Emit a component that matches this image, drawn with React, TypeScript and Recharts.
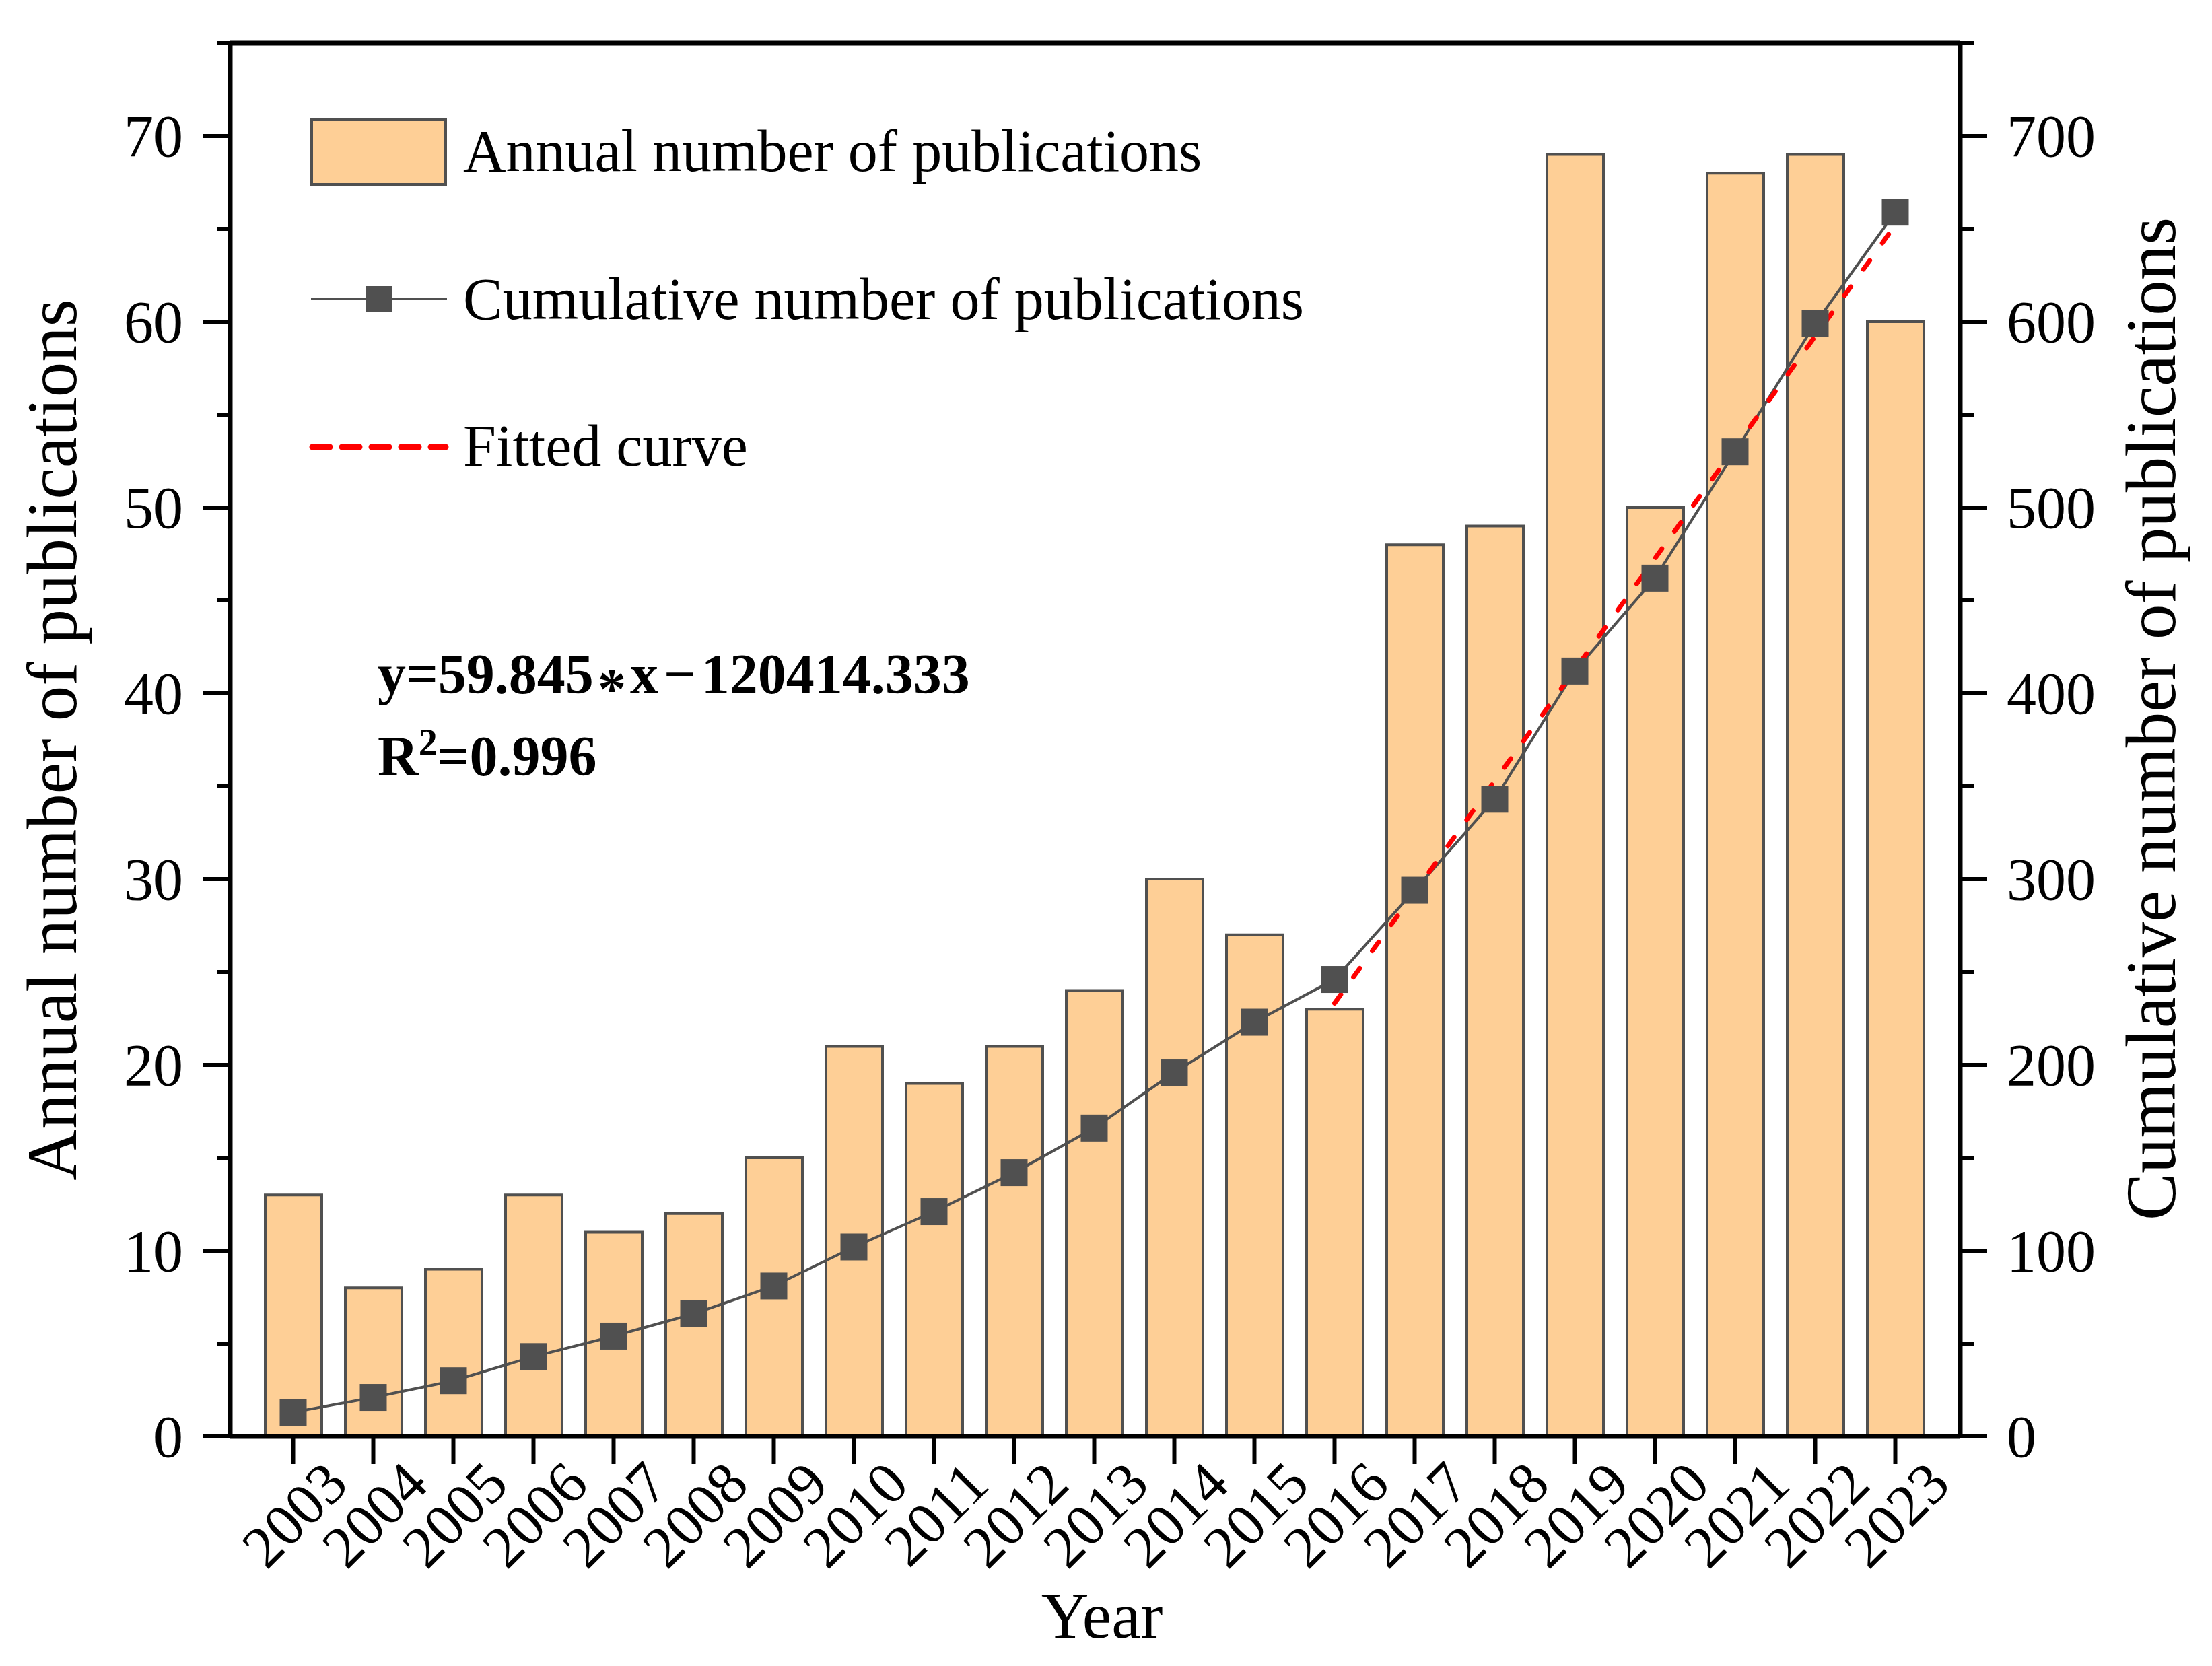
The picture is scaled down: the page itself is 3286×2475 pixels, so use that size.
import React from 'react';
import {
  ComposedChart,
  Bar,
  Line,
  XAxis,
  YAxis,
  Legend,
  ReferenceLine,
} from 'recharts';

const FONT = '"Liberation Serif", "Times New Roman", serif';
const BAR_FILL = '#FECF96';
const GRAY = '#505050';

// chart data
const years = [
  '2003', '2004', '2005', '2006', '2007', '2008', '2009', '2010', '2011', '2012', '2013',
  '2014', '2015', '2016', '2017', '2018', '2019', '2020', '2021', '2022', '2023',
];
const annualCounts = [13, 8, 9, 13, 11, 12, 15, 21, 19, 21, 24, 30, 27, 23, 48, 49, 69, 50, 68, 69, 60];
const cumulativeCounts = [
  13, 21, 30, 43, 54, 66, 81, 102, 121, 142, 166, 196, 223, 246, 294, 343, 412, 462, 530, 599, 659,
];
// linear fit over 2016-2023 (y = 59.845*x - 120414.333)
const fittedValues = [
  null, null, null, null, null, null, null, null, null, null, null, null, null,
  233.2, 293.0, 352.9, 412.7, 472.6, 532.4, 592.2, 652.1,
];
const leftTicks = [0, 5, 10, 15, 20, 25, 30, 35, 40, 45, 50, 55, 60, 65, 70, 75];
const rightTicks = [0, 50, 100, 150, 200, 250, 300, 350, 400, 450, 500, 550, 600, 650, 700, 750];

const data = years.map((year, i) => ({
  year,
  annual: annualCounts[i],
  cumulative: cumulativeCounts[i],
  fitted: fittedValues[i],
}));

const LeftTick = (props: any) => {
  const { x, y, payload } = props;
  const major = payload.value % 10 === 0;
  return (
    <g>
      <line x1={x} x2={x - (major ? 40 : 20)} y1={y} y2={y} stroke="#000" strokeWidth={6} />
      {major && (
        <text x={x - 70} y={y + 30} textAnchor="end" fontSize={88} fontFamily={FONT} fill="#000">
          {payload.value}
        </text>
      )}
    </g>
  );
};

const RightTick = (props: any) => {
  const { x, y, payload } = props;
  const major = payload.value % 100 === 0;
  return (
    <g>
      <line x1={x} x2={x + (major ? 40 : 20)} y1={y} y2={y} stroke="#000" strokeWidth={6} />
      {major && (
        <text x={x + 69} y={y + 30} textAnchor="start" fontSize={88} fontFamily={FONT} fill="#000">
          {payload.value}
        </text>
      )}
    </g>
  );
};

const YearTick = (props: any) => {
  const { x, y, payload } = props;
  const ax = x + 85;
  const ay = y + 34;
  return (
    <text
      x={ax}
      y={ay}
      transform={`rotate(-45, ${ax}, ${ay})`}
      textAnchor="end"
      fontSize={88}
      fontFamily={FONT}
      fill="#000"
    >
      {payload.value}
    </text>
  );
};

const SquareDot = (props: any) => {
  const { cx, cy, index } = props;
  if (cx == null || cy == null) return <g key={`d-${index}`} />;
  return <rect key={`d-${index}`} x={cx - 20} y={cy - 20} width={40} height={40} fill={GRAY} />;
};

const LegendBox = () => (
  <svg width={2100} height={760} style={{ display: 'block', overflow: 'visible' }}>
    <rect x={463} y={178} width={199} height={96} fill={BAR_FILL} stroke={GRAY} strokeWidth={4} />
    <text x={688} y={254} fontSize={88} fontFamily={FONT} fill="#000">
      Annual number of publications
    </text>
    <line x1={462} x2={664} y1={444} y2={444} stroke={GRAY} strokeWidth={4} />
    <rect x={544} y={425} width={39} height={39} fill={GRAY} />
    <text x={688} y={474} fontSize={88} fontFamily={FONT} fill="#000">
      Cumulative number of publications
    </text>
    <line
      x1={464}
      x2={662}
      y1={664}
      y2={664}
      stroke="#FF0000"
      strokeWidth={9}
      strokeDasharray="26 18"
      strokeLinecap="round"
    />
    <text x={688} y={692} fontSize={88} fontFamily={FONT} fill="#000">
      Fitted curve
    </text>
  </svg>
);

export default function App() {
  return (
    <div style={{ position: 'absolute', left: 0, top: 0, width: 3286, height: 2475, background: '#fff' }}>
      <ComposedChart
        width={3286}
        height={2475}
        data={data}
        margin={{ top: 64, right: 0, bottom: 0, left: 0 }}
      >
        <XAxis
          dataKey="year"
          padding={{ left: 34, right: 37 }}
          height={341}
          interval={0}
          tickSize={41}
          tickMargin={0}
          tickLine={{ stroke: '#000', strokeWidth: 6 }}
          axisLine={{ stroke: '#000', strokeWidth: 7 }}
          tick={<YearTick />}
          label={{
            value: 'Year',
            content: () => (
              <text x={1637} y={2433} textAnchor="middle" fontSize={98} fontFamily={FONT} fill="#000">
                Year
              </text>
            ),
          }}
        />
        <YAxis
          yAxisId="left"
          width={342}
          domain={[0, 75]}
          ticks={leftTicks}
          interval={0}
          tickSize={0}
          tickMargin={0}
          tickLine={false}
          axisLine={{ stroke: '#000', strokeWidth: 7 }}
          tick={<LeftTick />}
          label={{
            value: 'Annual number of publications',
            content: () => (
              <text
                x={113}
                y={1099}
                transform="rotate(-90, 113, 1099)"
                textAnchor="middle"
                fontSize={105}
                fontFamily={FONT}
                fill="#000"
              >
                Annual number of publications
              </text>
            ),
          }}
        />
        <YAxis
          yAxisId="right"
          orientation="right"
          width={374}
          domain={[0, 750]}
          ticks={rightTicks}
          interval={0}
          tickSize={0}
          tickMargin={0}
          tickLine={false}
          axisLine={{ stroke: '#000', strokeWidth: 7 }}
          tick={<RightTick />}
          label={{
            value: 'Cumulative number of publications',
            content: () => (
              <text
                x={3231}
                y={1068}
                transform="rotate(-90, 3231, 1068)"
                textAnchor="middle"
                fontSize={105}
                fontFamily={FONT}
                fill="#000"
              >
                Cumulative number of publications
              </text>
            ),
          }}
        />
        <ReferenceLine yAxisId="left" y={75} stroke="#000" strokeWidth={7} />
        <Legend
          layout="vertical"
          align="center"
          verticalAlign="middle"
          content={<LegendBox />}
          wrapperStyle={{ left: 0, top: 0, width: 2100, height: 760, margin: 0, padding: 0 }}
        />
        <Bar
          yAxisId="left"
          dataKey="annual"
          name="Annual number of publications"
          barSize={84}
          fill={BAR_FILL}
          stroke={GRAY}
          strokeWidth={4}
          isAnimationActive={false}
        />
        <Line
          yAxisId="right"
          dataKey="cumulative"
          name="Cumulative number of publications"
          stroke={GRAY}
          strokeWidth={4}
          dot={SquareDot}
          activeDot={false}
          isAnimationActive={false}
        />
        <Line
          yAxisId="right"
          dataKey="fitted"
          name="Fitted curve"
          stroke="#FF0000"
          strokeWidth={7}
          strokeDasharray="16 32"
          strokeLinecap="round"
          dot={false}
          activeDot={false}
          connectNulls={false}
          isAnimationActive={false}
        />
      </ComposedChart>
      <svg
        width={3286}
        height={2475}
        style={{ position: 'absolute', left: 0, top: 0, pointerEvents: 'none' }}
      >
        <text x={561} y={1030} fontSize={84} fontWeight="bold" fontFamily={FONT} fill="#000">
          y=59.845<tspan dx={6} dy={22}>*</tspan>
          <tspan dx={6} dy={-22}>x</tspan>
          <tspan dx={8}>−</tspan>
          <tspan dx={8}>120414.333</tspan>
        </text>
        <text x={561} y={1152} fontSize={84} fontWeight="bold" fontFamily={FONT} fill="#000">
          R<tspan dy={-30} fontSize={56}>2</tspan>
          <tspan dy={30}>=0.996</tspan>
        </text>
      </svg>
    </div>
  );
}
